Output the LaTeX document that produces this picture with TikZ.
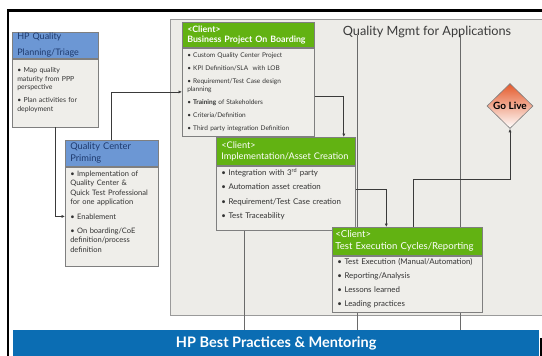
\documentclass[tikz,border=0pt]{standalone}
\usepackage{fontspec}
\setmainfont{Lato}
\usetikzlibrary{shapes.geometric,arrows.meta}

\definecolor{barblue}{HTML}{0B6DB3}
\definecolor{headblue}{HTML}{6C97D4}
\definecolor{headgreen}{HTML}{62B212}
\definecolor{panelgray}{HTML}{EDECE8}
\definecolor{bodyfill}{HTML}{EFEEEA}
\definecolor{panelline}{HTML}{9A9A9A}
\definecolor{boxline}{HTML}{7F7F7F}
\definecolor{lanegray}{HTML}{6A6A6A}
\definecolor{linkgray}{HTML}{3A3A3A}
\definecolor{navy}{HTML}{1E3A6E}
\definecolor{bodytext}{HTML}{333333}
\definecolor{titlegray}{HTML}{3A3A3A}
\definecolor{liveorange}{HTML}{E55A2B}

\tikzset{
  box/.style={rectangle,draw=boxline,line width=0.6pt,anchor=north west,align=left,inner xsep=5pt,inner ysep=0pt},
  bluehead/.style={box,fill=headblue,text=navy},
  greenhead/.style={box,fill=headgreen,text=white},
  body/.style={box,fill=bodyfill,text=bodytext},
  link/.style={->,draw=linkgray,line width=0.7pt},
  lane/.style={draw=lanegray,line width=0.7pt}
}

\begin{document}
\begin{tikzpicture}[x=1pt,y=-1pt,>={Latex[length=3.5pt,width=3.2pt]}]
    \useasboundingbox (0,0) rectangle (542,356);
    \clip (0,0) rectangle (542,356);
    \fill [white] (0,0) rectangle (542,356);

    \draw (170,19) node (panel) [rectangle,draw=panelline,fill=panelgray,anchor=north west,minimum width=390pt,minimum height=296pt,inner sep=0pt] {};
    \draw (427,32) node (title) [text=titlegray,font=\fontsize{12.7}{14}\selectfont] {Quality Mgmt for Applications};
    \draw (13,330) node (bar) [rectangle,fill=barblue,anchor=north west,minimum width=526pt,minimum height=26pt,inner sep=0pt,text=white,font=\bfseries\fontsize{14.5}{16}\selectfont] {HP Best Practices \& Mentoring};
    \fill (539.5,338) rectangle (542,356);

    \foreach \x [count=\i] in {244,357,460} {
        \coordinate (lane\i) at (\x,35);
        \draw [lane] (lane\i) -- (lane\i |- bar.north);
    }

    \draw (12,32) node (planHead) [bluehead,text width=76pt,minimum height=26pt,font=\fontsize{9}{16}\selectfont] {HP Quality\\Planning/Triage};
    \draw (planHead.south west) node (planBody) [body,text width=76pt,text height=14pt,text depth=54pt,font=\fontsize{6.9}{8.3}\selectfont] {\textbullet\ Map quality\\maturity from PPP\\perspective\\[5pt]\textbullet\ Plan activities for\\deployment};

    \draw (65,140) node (qcHead) [bluehead,text width=83pt,minimum height=26pt,font=\fontsize{9.3}{12}\selectfont] {Quality Center\\Priming};
    \draw (qcHead.south west) node (qcBody) [body,text width=83pt,text height=9.5pt,text depth=89.5pt,font=\fontsize{7.5}{9.5}\selectfont] {\textbullet\ Implementation of\\Quality Center \&\\Quick Test Professional\\for one application\\[5pt]\textbullet\ Enablement\\[4.5pt]\textbullet\ On boarding/CoE\\definition/process\\definition};

    \draw (182,22) node (busHead) [greenhead,text width=122pt,minimum height=25pt,font=\bfseries\fontsize{8.8}{10}\selectfont] {<Client>\\Business Project On Boarding};
    \draw (busHead.south west) node (busBody) [body,text width=122pt,text height=10pt,text depth=78pt,font=\fontsize{6.5}{8}\selectfont] {\textbullet\ Custom Quality Center Project\\[5pt]\textbullet\ KPI Definition/SLA\ \ with LOB\\[5pt]\textbullet\ Requirement/Test Case design\\planning\\[5pt]\textbullet\ \textbf{Training} of Stakeholders\\[5pt]\textbullet\ Criteria/Definition\\[4.5pt]\textbullet\ Third party integration Definition};

    \draw (216,137) node (implHead) [greenhead,text width=129pt,minimum height=28pt,font=\fontsize{9.2}{11}\selectfont] {<Client>\\Implementation/Asset Creation};
    \draw (implHead.south west) node (implBody) [body,text width=129pt,text height=9.5pt,text depth=54.5pt,font=\fontsize{7.9}{14.3}\selectfont] {\textbullet\ Integration with 3\textsuperscript{rd} party\\\textbullet\ Automation asset creation\\\textbullet\ Requirement/Test Case creation\\\textbullet\ Test Traceability};

    \draw (332,227) node (testHead) [greenhead,inner xsep=3pt,text width=144pt,minimum height=28pt,font=\fontsize{9.6}{12}\selectfont] {<Client>\\Test Execution Cycles/Reporting};
    \draw (testHead.south west) node (testBody) [body,text width=140pt,text height=9pt,text depth=47pt,font=\fontsize{7.9}{14}\selectfont] {\textbullet\ Test Execution (Manual/Automation)\\\textbullet\ Reporting/Analysis\\\textbullet\ Lessons learned\\\textbullet\ Leading practices};

    \draw (510,106) node (golive) [diamond,draw=boxline,line width=0.6pt,top color=liveorange,bottom color=white,minimum width=46pt,minimum height=45pt,inner sep=0pt,font=\bfseries\fontsize{10}{11}\selectfont] {Go Live};

    \draw [link] (planBody.south) |- (qcBody.west);
    \draw [link] (qcHead.north) |- (busBody.west);
    \draw [link] ([yshift=-4pt]busBody.east) -| ([xshift=58pt]implHead.north);
    \draw [link] ([yshift=9pt]implBody.east) -| ([xshift=-21pt]testHead.north);
    \draw [link] ([xshift=6pt]testHead.north) -- ++(0,-48) -| (golive.south);

    \draw [line width=2.4pt] (8.2,356) -- (8.2,10.5) -- (542,10.5);
\end{tikzpicture}
\end{document}
